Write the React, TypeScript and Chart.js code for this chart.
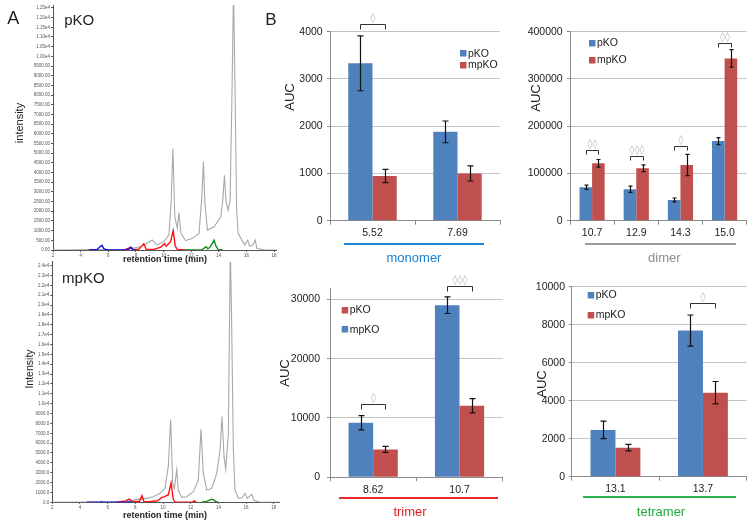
import React, { useEffect, useRef } from 'react';
import { Chart, registerables } from 'chart.js';

Chart.register(...registerables);

const FONT = 'Liberation Sans, Arial, sans-serif';
Chart.defaults.font.family = FONT;

const BLUE = '#4F81BD';
const RED = '#C0504D';
const AXIS = '#8c8c8c';
const GRID = '#c4c4c4';
const TXT = '#222';

// ---------- Panel A: chromatograms (retention time in min, intensity) ----------
const pkoGrayT = [2, 7.36, 8.33, 8.6, 9.18, 9.54, 10.02, 10.39, 10.56, 10.68, 10.82, 11.0, 11.11, 11.26, 11.6, 12.09, 12.57, 12.76, 12.89, 13.0, 13.18, 13.66, 14.15, 14.29, 14.41, 14.53, 14.68, 14.82, 14.95, 15.07, 15.19, 15.29, 15.4, 15.65, 15.89, 16.09, 16.23, 16.47, 16.64, 16.76, 17.29, 18.2];
const pkoGrayI = [0, 35, 170, 260, 515, 257, 430, 772, 2575, 5235, 1717, 1116, 1923, 858, 481, 601, 858, 2575, 4550, 2403, 1030, 1202, 1717, 2575, 3862, 2489, 2060, 2575, 7725, 13500, 7725, 2232, 858, 549, 257, 515, 206, 257, 515, 86, 0, 0];
const pkoRedT = [7.0, 7.24, 7.45, 7.6, 7.75, 8.2, 8.42, 8.57, 8.75, 9.3, 9.8, 10.07, 10.2, 10.4, 10.51, 10.7, 10.85, 11.0, 11.6];
const pkoRedI = [0, 30, 80, 137, 20, 40, 200, 320, 40, 30, 150, 330, 200, 350, 420, 1000, 200, 30, 0];
const pkoBlueT = [4.6, 5.2, 5.4, 5.54, 5.7, 5.95, 7.35, 7.5, 7.65, 7.8, 8.0];
const pkoBlueI = [0, 30, 170, 240, 60, 0, 0, 60, 140, 20, 0];
const pkoGreenT = [11.5, 12.8, 12.95, 13.1, 13.2, 13.35, 13.5, 13.66, 13.8, 13.95, 14.3];
const pkoGreenI = [0, 20, 100, 172, 60, 130, 300, 500, 200, 30, 0];

const mpkoGrayT = [2, 7.38, 8.1, 8.82, 9.3, 9.78, 10.14, 10.38, 10.55, 10.7, 10.82, 10.99, 11.1, 11.35, 11.71, 12.19, 12.55, 12.74, 12.91, 13.16, 13.52, 13.88, 14.12, 14.26, 14.41, 14.53, 14.72, 14.8, 14.86, 14.95, 15.08, 15.2, 15.44, 15.7, 15.92, 16.09, 16.41, 16.57, 17.0, 18.4];
const mpkoGrayI = [0, 60, 300, 400, 570, 910, 1410, 3600, 8400, 1920, 1410, 3300, 1240, 500, 570, 1070, 2250, 7400, 2930, 1240, 1410, 2930, 5280, 8700, 4600, 3350, 6970, 18000, 26000, 19000, 5280, 1240, 400, 450, 910, 400, 810, 200, 0, 0];
const mpkoRedT = [6.65, 7.3, 7.56, 7.8, 8.3, 8.48, 8.62, 9.0, 9.6, 9.9, 10.1, 10.38, 10.58, 10.74, 10.87, 11.2, 12.1, 12.26, 12.4];
const mpkoRedI = [0, 150, 330, 60, 100, 670, 60, 60, 150, 470, 570, 740, 1950, 300, 20, 0, 0, 150, 0];
const mpkoBlueT = [4.5, 5.4, 5.55, 5.7, 7.3, 7.55, 7.8];
const mpkoBlueI = [0, 0, 60, 0, 0, 40, 0];
const mpkoGreenT = [12.8, 13.0, 13.2, 13.4, 13.52, 13.65, 13.8, 14.0];
const mpkoGreenI = [0, 50, 120, 250, 300, 250, 80, 0];

// ---------- Panel B: AUC bar charts ----------
const monomerCats = ['5.52', '7.69'];
const monomerPKO = [3330, 1880];
const monomerPKOErr = [580, 230];
const monomerMPKO = [945, 1000];
const monomerMPKOErr = [140, 160];
const monomerSigCats = [0];
const monomerSigAt = [4165];
const monomerSigMarks = ['◊'];

const dimerCats = ['10.7', '12.9', '14.3', '15.0'];
const dimerPKO = [71000, 66500, 44000, 168500];
const dimerPKOErr = [4500, 6500, 4000, 7500];
const dimerMPKO = [121500, 111000, 118000, 343500];
const dimerMPKOErr = [8000, 7000, 22500, 18500];
const dimerSigCats = [0, 1, 2, 3];
const dimerSigAt = [149600, 137000, 158100, 376700];
const dimerSigMarks = ['◊◊', '◊◊◊', '◊', '◊◊'];

const trimerCats = ['8.62', '10.7'];
const trimerBlue = [9200, 29000]; // legend label: mpKO
const trimerBlueErr = [1200, 1400];
const trimerRed = [4700, 12050]; // legend label: pKO
const trimerRedErr = [500, 1200];
const trimerSigCats = [0, 1];
const trimerSigAt = [12300, 32240];
const trimerSigMarks = ['◊', '◊◊◊'];

const tetramerCats = ['13.1', '13.7'];
const tetramerPKO = [2460, 7690];
const tetramerPKOErr = [460, 820];
const tetramerMPKO = [1530, 4420];
const tetramerMPKOErr = [170, 590];
const tetramerSigCats = [1];
const tetramerSigAt = [9123];
const tetramerSigMarks = ['◊'];

// ---------- plugins ----------
const makeErrorBars = (cap: number) => ({
  id: 'errorBars',
  afterDatasetsDraw(chart: any) {
    const ctx = chart.ctx;
    const ys = chart.scales.y;
    chart.data.datasets.forEach((ds: any, i: number) => {
      if (!ds.errors) return;
      const meta = chart.getDatasetMeta(i);
      meta.data.forEach((bar: any, j: number) => {
        const v = ds.data[j];
        const e = ds.errors[j];
        const yt = ys.getPixelForValue(v + e);
        const yb = ys.getPixelForValue(v - e);
        const x = Math.round(bar.x) + 0.5;
        const c = cap / 2;
        ctx.save();
        ctx.strokeStyle = '#111';
        ctx.lineWidth = 1.2;
        ctx.beginPath();
        ctx.moveTo(x, yt);
        ctx.lineTo(x, yb);
        ctx.moveTo(x - c, yt);
        ctx.lineTo(x + c, yt);
        ctx.moveTo(x - c, yb);
        ctx.lineTo(x + c, yb);
        ctx.stroke();
        ctx.restore();
      });
    });
  },
});

const makeBrackets = (cats: number[], at: number[], marks: string[], tick: number) => ({
  id: 'sigBrackets',
  afterDraw(chart: any) {
    const ctx = chart.ctx;
    const ys = chart.scales.y;
    const m0 = chart.getDatasetMeta(0).data;
    const m1 = chart.getDatasetMeta(1).data;
    cats.forEach((c, k) => {
      const x0 = Math.round(m0[c].x) + 0.5;
      const x1 = Math.round(m1[c].x) + 0.5;
      const y = Math.round(ys.getPixelForValue(at[k])) + 0.5;
      ctx.save();
      ctx.strokeStyle = '#333';
      ctx.lineWidth = 1;
      ctx.beginPath();
      ctx.moveTo(x0, y + tick);
      ctx.lineTo(x0, y);
      ctx.lineTo(x1, y);
      ctx.lineTo(x1, y + tick);
      ctx.stroke();
      ctx.fillStyle = '#b8b8b8';
      ctx.font = '10px "DejaVu Sans"';
      ctx.textAlign = 'center';
      ctx.textBaseline = 'alphabetic';
      ctx.fillText(marks[k], (x0 + x1) / 2, y - 4);
      ctx.restore();
    });
  },
});

const makeLegend = (x: number, y: number, gap: number, reverse: boolean) => ({
  id: 'boxLegend',
  afterDraw(chart: any) {
    const ctx = chart.ctx;
    const ds = chart.data.datasets.slice();
    if (reverse) ds.reverse();
    ds.forEach((d: any, k: number) => {
      const cy = y + k * gap;
      ctx.save();
      ctx.fillStyle = d.backgroundColor;
      ctx.fillRect(x, Math.round(cy - 3), 6.5, 6.5);
      ctx.fillStyle = TXT;
      ctx.font = `10.5px ${FONT}`;
      ctx.textAlign = 'left';
      ctx.textBaseline = 'middle';
      ctx.fillText(d.label, x + 8, cy + 0.5);
      ctx.restore();
    });
  },
});

// ticks at every multiple of step up to max (avoids Chart.js evenly dividing min..max)
const stepTicks = (step: number, max: number) => (s: any) => {
  const out: { value: number }[] = [];
  for (let v = 0; v <= max + 1e-9; v += step) out.push({ value: v });
  s.ticks = out;
};

// ---------- config builders ----------
type Area = { l: number; t: number; r: number; b: number };

function barConfig(p: {
  W: number; H: number; area: Area; cats: string[];
  sets: { label: string; color: string; values: number[]; errors: number[] }[];
  max: number; step: number; yPad: number; cap: number;
  sig: [number[], number[], string[]]; tick: number;
  legend: [number, number, number, boolean];
}): any {
  const tickFont = { family: FONT, size: 10.5 };
  return {
    type: 'bar',
    data: {
      labels: p.cats,
      datasets: p.sets.map((s) => ({
        label: s.label,
        data: s.values,
        errors: s.errors,
        backgroundColor: s.color,
        borderWidth: 0,
        categoryPercentage: 0.57,
        barPercentage: 1,
      })),
    },
    options: {
      animation: false,
      responsive: false,
      devicePixelRatio: 1,
      events: [],
      layout: { padding: { left: 0, top: p.area.t, right: p.W - p.area.r, bottom: 0 } },
      plugins: { legend: { display: false }, tooltip: { enabled: false } },
      scales: {
        x: {
          grid: { drawOnChartArea: false, tickLength: 4, color: AXIS, offset: true },
          border: { color: AXIS },
          ticks: { font: tickFont, color: TXT, padding: 2.3 },
          afterFit: (s: any) => { s.height = p.H - p.area.b; },
        },
        y: {
          min: 0,
          max: p.max,
          grid: { color: GRID, tickColor: AXIS, tickLength: 3 },
          border: { color: AXIS },
          ticks: { autoSkip: false, font: tickFont, color: TXT, padding: p.yPad, callback: (v: any) => String(v) },
          afterBuildTicks: stepTicks(p.step, p.max),
          afterFit: (s: any) => { s.width = p.area.l; },
        },
      },
    },
    plugins: [
      makeErrorBars(p.cap),
      makeBrackets(p.sig[0], p.sig[1], p.sig[2], p.tick),
      makeLegend(p.legend[0], p.legend[1], p.legend[2], p.legend[3]),
    ],
  };
}

const pts = (t: number[], v: number[]) => t.map((x, i) => ({ x, y: v[i] }));

function chromConfig(p: {
  W: number; H: number; area: Area; xmax: number; ymax: number; ystep: number; dec: number;
  xTick: number; xPad: number;
  traces: { t: number[]; v: number[]; color: string; width: number }[];
}): any {
  const f = { family: FONT, size: 4.5 };
  return {
    type: 'line',
    data: {
      datasets: p.traces.map((tr) => ({
        data: pts(tr.t, tr.v),
        borderColor: tr.color,
        borderWidth: tr.width,
        pointRadius: 0,
        tension: 0,
        fill: false,
      })),
    },
    options: {
      animation: false,
      responsive: false,
      devicePixelRatio: 1,
      events: [],
      layout: { padding: { left: 0, top: p.area.t, right: p.W - p.area.r, bottom: 0 } },
      plugins: { legend: { display: false }, tooltip: { enabled: false } },
      scales: {
        x: {
          type: 'linear',
          min: 2,
          max: p.xmax,
          grid: { drawOnChartArea: false, tickLength: p.xTick, color: '#555' },
          border: { color: '#555' },
          ticks: { autoSkip: false, maxRotation: 0, font: f, color: '#555', padding: p.xPad, callback: (v: any) => String(v) },
          afterBuildTicks: (s: any) => {
            const out: { value: number }[] = [];
            for (let v = 2; v <= 18; v += 2) out.push({ value: v });
            s.ticks = out;
          },
          afterFit: (s: any) => { s.height = p.H - p.area.b; },
        },
        y: {
          min: 0,
          max: p.ymax,
          grid: { drawOnChartArea: false, tickLength: 2, color: '#555' },
          border: { color: '#555' },
          ticks: {
            autoSkip: false,
            font: f,
            color: '#555',
            padding: 1,
            callback: (v: any) => (v >= 10000 ? (v / 10000).toFixed(p.dec) + 'e4' : Number(v).toFixed(p.dec)),
          },
          afterBuildTicks: stepTicks(p.ystep, p.ymax),
          afterFit: (s: any) => { s.width = p.area.l; },
        },
      },
    },
  };
}

// ---------- components ----------
function ChartBox(props: { left: number; top: number; width: number; height: number; make: () => any }) {
  const ref = useRef<HTMLCanvasElement>(null);
  useEffect(() => {
    const chart = new Chart(ref.current as HTMLCanvasElement, props.make());
    return () => chart.destroy();
  }, []);
  return (
    <canvas
      ref={ref}
      width={props.width}
      height={props.height}
      style={{ position: 'absolute', left: props.left, top: props.top, width: props.width, height: props.height }}
    />
  );
}

function Label(props: { x: number; y: number; text: string; size: number; color?: string; rot?: boolean; bold?: boolean }) {
  return (
    <div
      style={{
        position: 'absolute',
        left: props.x,
        top: props.y,
        transform: 'translate(-50%, -50%)' + (props.rot ? ' rotate(-90deg)' : ''),
        fontFamily: FONT,
        fontSize: props.size,
        fontWeight: props.bold ? 'bold' : 'normal',
        color: props.color || TXT,
        lineHeight: 1,
        whiteSpace: 'nowrap',
      }}
    >
      {props.text}
    </div>
  );
}

function HLine(props: { x1: number; x2: number; y: number; color: string }) {
  return (
    <div
      style={{
        position: 'absolute',
        left: props.x1,
        top: props.y - 1,
        width: props.x2 - props.x1,
        height: 2,
        background: props.color,
      }}
    />
  );
}

export default function App() {
  return (
    <div style={{ position: 'absolute', left: 0, top: 0, width: 754, height: 526, background: '#fff', overflow: 'hidden' }}>
      <ChartBox
        left={0} top={0} width={282} height={268}
        make={() => chromConfig({
          W: 282, H: 268, area: { l: 53, t: 5, r: 276.5, b: 250 }, xmax: 18.18, ymax: 12650, ystep: 500, dec: 2,
          xTick: 2, xPad: 1.3,
          traces: [
            { t: pkoBlueT, v: pkoBlueI, color: '#1010e0', width: 1.4 },
            { t: pkoRedT, v: pkoRedI, color: '#ff1010', width: 1.4 },
            { t: pkoGreenT, v: pkoGreenI, color: '#1a8a1a', width: 1.4 },
            { t: pkoGrayT, v: pkoGrayI, color: '#a8a8a8', width: 1.1 },
          ],
        })}
      />
      <ChartBox
        left={0} top={258} width={282} height={268}
        make={() => chromConfig({
          W: 282, H: 268, area: { l: 52.3, t: 2, r: 279.3, b: 244.3 }, xmax: 18.4, ymax: 24400, ystep: 1000, dec: 1,
          xTick: 1.5, xPad: 0.8,
          traces: [
            { t: mpkoBlueT, v: mpkoBlueI, color: '#1010e0', width: 1.4 },
            { t: mpkoRedT, v: mpkoRedI, color: '#ff1010', width: 1.4 },
            { t: mpkoGreenT, v: mpkoGreenI, color: '#1a8a1a', width: 1.4 },
            { t: mpkoGrayT, v: mpkoGrayI, color: '#a8a8a8', width: 1.1 },
          ],
        })}
      />
      <ChartBox
        left={280} top={0} width={240} height={262}
        make={() => barConfig({
          W: 240, H: 262, area: { l: 50, t: 31.7, r: 220, b: 220.7 }, cats: monomerCats,
          sets: [
            { label: 'pKO', color: BLUE, values: monomerPKO, errors: monomerPKOErr },
            { label: 'mpKO', color: RED, values: monomerMPKO, errors: monomerMPKOErr },
          ],
          max: 4000, step: 1000, yPad: 4.3, cap: 6,
          sig: [monomerSigCats, monomerSigAt, monomerSigMarks], tick: 5,
          legend: [180, 53.3, 11.7, false],
        })}
      />
      <ChartBox
        left={520} top={0} width={234} height={262}
        make={() => barConfig({
          W: 234, H: 262, area: { l: 50, t: 31.7, r: 226.7, b: 220.7 }, cats: dimerCats,
          sets: [
            { label: 'pKO', color: BLUE, values: dimerPKO, errors: dimerPKOErr },
            { label: 'mpKO', color: RED, values: dimerMPKO, errors: dimerMPKOErr },
          ],
          max: 400000, step: 100000, yPad: 4.3, cap: 4,
          sig: [dimerSigCats, dimerSigAt, dimerSigMarks], tick: 4,
          legend: [69, 42.7, 17.3, false],
        })}
      />
      <ChartBox
        left={280} top={262} width={240} height={264}
        make={() => barConfig({
          W: 240, H: 264, area: { l: 50, t: 26.3, r: 222.7, b: 215.3 }, cats: trimerCats,
          sets: [
            { label: 'mpKO', color: BLUE, values: trimerBlue, errors: trimerBlueErr },
            { label: 'pKO', color: RED, values: trimerRed, errors: trimerRedErr },
          ],
          max: 31850, step: 10000, yPad: 7, cap: 6,
          sig: [trimerSigCats, trimerSigAt, trimerSigMarks], tick: 5,
          legend: [61.7, 48, 19.3, true],
        })}
      />
      <ChartBox
        left={520} top={262} width={234} height={264}
        make={() => barConfig({
          W: 234, H: 264, area: { l: 51.7, t: 24.7, r: 226.7, b: 214.7 }, cats: tetramerCats,
          sets: [
            { label: 'pKO', color: BLUE, values: tetramerPKO, errors: tetramerPKOErr },
            { label: 'mpKO', color: RED, values: tetramerMPKO, errors: tetramerMPKOErr },
          ],
          max: 10000, step: 2000, yPad: 3.7, cap: 6,
          sig: [tetramerSigCats, tetramerSigAt, tetramerSigMarks], tick: 5,
          legend: [67.7, 33, 20, false],
        })}
      />

      <Label x={13.3} y={18.3} text="A" size={18} />
      <Label x={79.2} y={19} text="pKO" size={15} />
      <Label x={83.3} y={277} text="mpKO" size={15} />
      <Label x={271} y={19.2} text="B" size={17} />
      <Label x={19} y={123} text="intensity" size={11} rot />
      <Label x={29} y={369} text="Intensity" size={10.5} rot />
      <Label x={165} y={259} text="retention time (min)" size={9} bold />
      <Label x={165} y={515} text="retention time (min)" size={9} bold />

      <Label x={289} y={96.7} text="AUC" size={13} rot />
      <Label x={535} y={98} text="AUC" size={13} rot />
      <Label x={284} y={373} text="AUC" size={13} rot />
      <Label x={541} y={384} text="AUC" size={13} rot />

      <HLine x1={344.3} x2={484} y={244.3} color="#1f86d8" />
      <Label x={414} y={257} text="monomer" size={13} color="#1a80d0" />
      <HLine x1={585} x2={736} y={244.3} color="#9a9a9a" />
      <Label x={664.3} y={257} text="dimer" size={13} color="#8c8c8c" />
      <HLine x1={339.3} x2={498.3} y={498.3} color="#e8282a" />
      <Label x={410} y={511} text="trimer" size={13} color="#e01e1e" />
      <HLine x1={583.3} x2={736} y={497.3} color="#2eb24d" />
      <Label x={661} y={511} text="tetramer" size={13} color="#1fa83c" />
    </div>
  );
}
